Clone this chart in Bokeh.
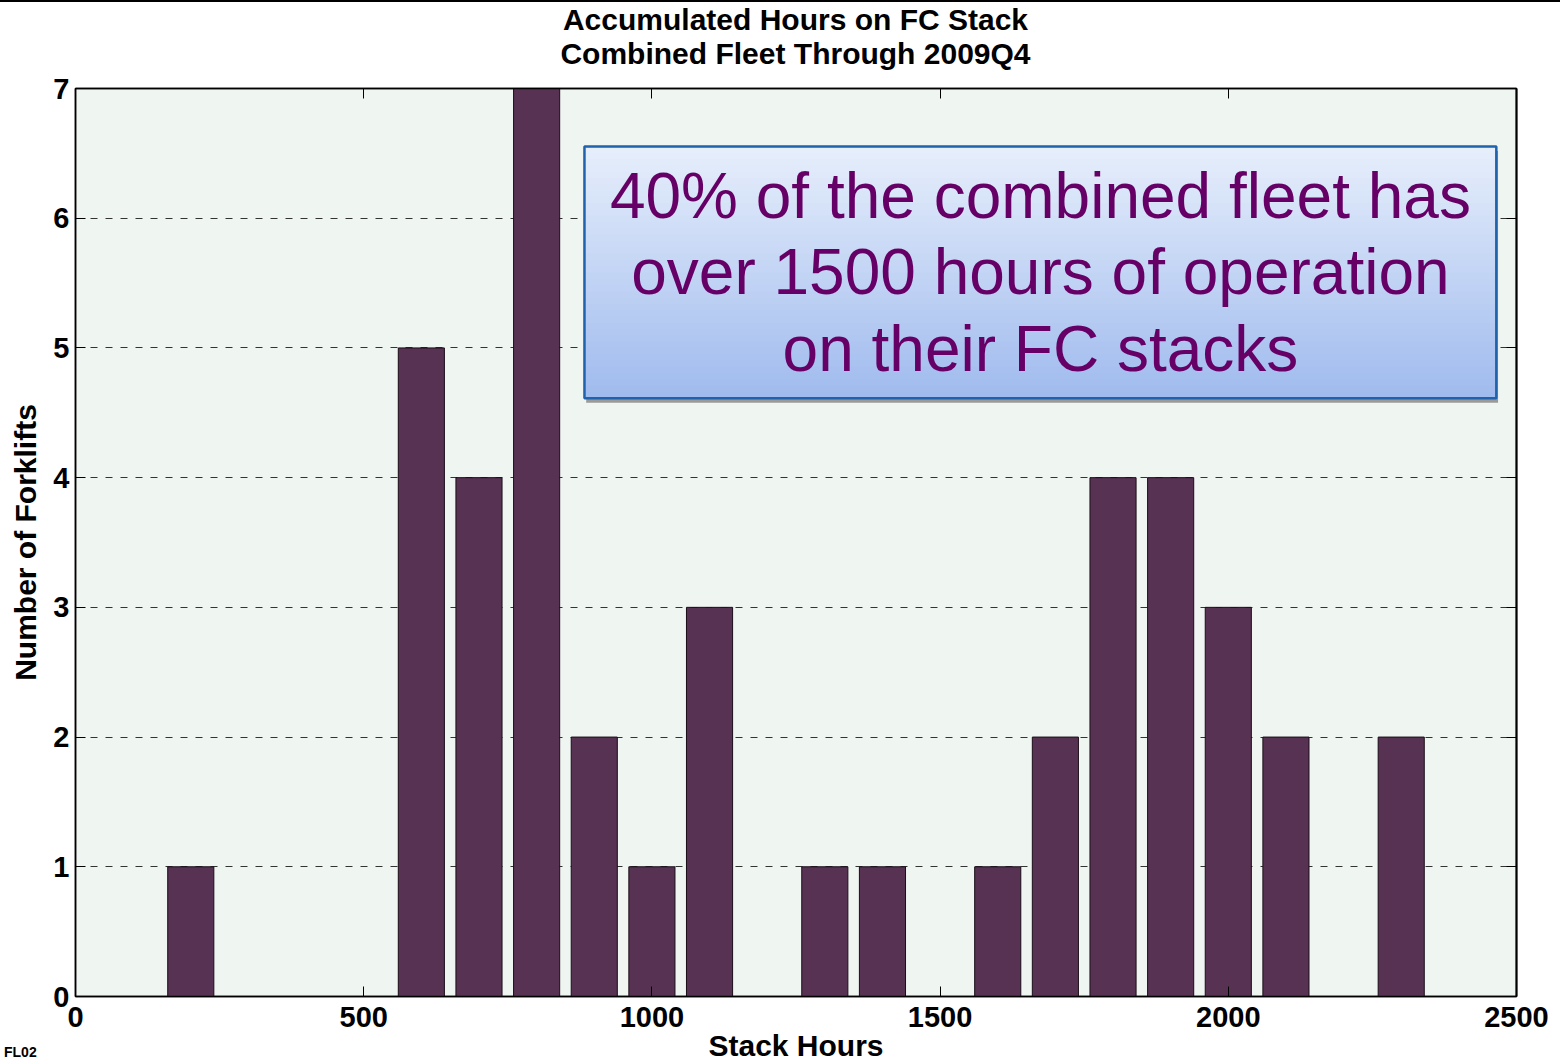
from bokeh.plotting import figure
from bokeh.models import (LinearAxis, Label, BoxAnnotation, FixedTicker, Div, Range1d)
from bokeh.layouts import column
from bokeh.embed import file_html
from bokeh.resources import INLINE

# ---- data ----
stack_hours = [200, 600, 700, 800, 900, 1000, 1100, 1300, 1400, 1600, 1700, 1800, 1900, 2000, 2100, 2300]
forklifts = [1, 5, 4, 7, 2, 1, 3, 1, 1, 1, 2, 4, 4, 3, 2, 2]
x_ticks = [0, 500, 1000, 1500, 2000, 2500]
y_ticks = [0, 1, 2, 3, 4, 5, 6, 7]
title_lines = ["Accumulated Hours on FC Stack", "Combined Fleet Through 2009Q4"]
note_lines = ["40% of the combined fleet has", "over 1500 hours of operation", "on their FC stacks"]
corner_tag = "FL02"

FONT = "Liberation Sans"

p = figure(width=1560, height=992, x_range=Range1d(0, 2500), y_range=Range1d(0, 7),
           output_backend="svg", toolbar_location=None, title=None,
           min_border_left=75, min_border_right=44, min_border_top=16, min_border_bottom=67)
p.background_fill_color = "#eff5f1"
p.border_fill_color = "white"
p.outline_line_color = "black"
p.outline_line_width = 1.5

bottom_ax = p.below[0]
left_ax = p.left[0]

top_ax = LinearAxis(ticker=FixedTicker(ticks=x_ticks), major_tick_in=10, major_tick_out=0,
                    minor_tick_in=0, minor_tick_out=0, major_label_text_font_size="1px",
                    major_label_text_alpha=0, major_label_standoff=0,
                    axis_line_color="black", axis_line_width=1.5)
p.add_layout(top_ax, "above")

p.vbar(x=stack_hours, top=forklifts, width=80, fill_color="#583253",
       line_color="#1a0d18", line_width=1)

for ax in (bottom_ax, left_ax):
    ax.major_tick_in = 10
    ax.major_tick_out = 0
    ax.minor_tick_in = 0
    ax.minor_tick_out = 0
    ax.axis_line_color = "black"
    ax.axis_line_width = 1.5
    ax.major_label_text_font = FONT
    ax.major_label_text_font_size = "29px"
    ax.major_label_text_font_style = "bold"
    ax.major_label_text_color = "black"
    ax.axis_label_text_font = FONT
    ax.axis_label_text_font_size = "30px"
    ax.axis_label_text_font_style = "bold"
    ax.axis_label_text_color = "black"

bottom_ax.ticker = FixedTicker(ticks=x_ticks)
left_ax.ticker = FixedTicker(ticks=y_ticks)
bottom_ax.axis_label = "Stack Hours"
left_ax.axis_label = "Number of Forklifts"
bottom_ax.major_label_standoff = 10
bottom_ax.axis_label_standoff = -1
left_ax.major_label_standoff = 6
left_ax.axis_label_standoff = 8

right_ax = LinearAxis(ticker=FixedTicker(ticks=y_ticks), major_tick_in=10, major_tick_out=0,
                      minor_tick_in=0, minor_tick_out=0, major_label_text_font_size="1px",
                      major_label_text_alpha=0, axis_line_color="black", axis_line_width=2)
p.add_layout(right_ax, "right")

p.xgrid.grid_line_color = None
p.ygrid.grid_line_color = "#333333"
p.ygrid.grid_line_dash = "7 8"
p.ygrid.grid_line_width = 1

# annotation box (data coords), gradient via overlapping strips, with shadow
bx0, bx1, by0, by1 = 883, 2465, 4.613, 6.553
p.add_layout(BoxAnnotation(left=bx0 + 3, right=bx1 + 3, bottom=by0 - 0.035, top=by1 - 0.035,
                           fill_color="#9a9a9a", fill_alpha=1, line_alpha=0, level="annotation"))
n = 40
c0 = (0xE6, 0xEE, 0xFB)
c1 = (0xA0, 0xBB, 0xEE)
for k in range(n):
    f = k / (n - 1)
    col = "#%02x%02x%02x" % tuple(int(round(a + (b - a) * f)) for a, b in zip(c0, c1))
    top = by1 - (by1 - by0) * k / n
    bot = max(by0, by1 - (by1 - by0) * (k + 1.6) / n)
    p.add_layout(BoxAnnotation(left=bx0, right=bx1, bottom=bot, top=top, fill_color=col,
                               fill_alpha=1, line_alpha=0, level="annotation"))
p.add_layout(BoxAnnotation(left=bx0, right=bx1, bottom=by0, top=by1, fill_alpha=0,
                           line_color="#1f62ad", line_alpha=1, line_width=2.5, level="annotation"))

cx = (bx0 + bx1) / 2
note_y = [6.17, 5.585, 4.99]
for line, yy in zip(note_lines, note_y):
    p.add_layout(Label(x=cx, y=yy, text=line, text_align="center", text_baseline="middle",
                       text_font=FONT, text_font_size="64px", text_color="#660066"))

bar = Div(text="", width=1560, height=2, margin=0, styles={"background-color": "black"})
title_div = Div(text="<br>".join(title_lines), width=1441, height=69, margin=(1, 0, 0, 75),
                styles={"font-family": FONT, "font-size": "30px", "font-weight": "bold",
                        "line-height": "34px", "text-align": "center", "color": "black",
                        "white-space": "nowrap"})
tag_div = Div(text=corner_tag, width=60, height=16, margin=(-20, 0, 0, 4),
              styles={"font-family": FONT, "font-size": "14px", "font-weight": "bold",
                      "line-height": "16px", "color": "black"})
layout = column(bar, title_div, p, tag_div, spacing=0)

open("out.html", "w").write(file_html(layout, INLINE))
